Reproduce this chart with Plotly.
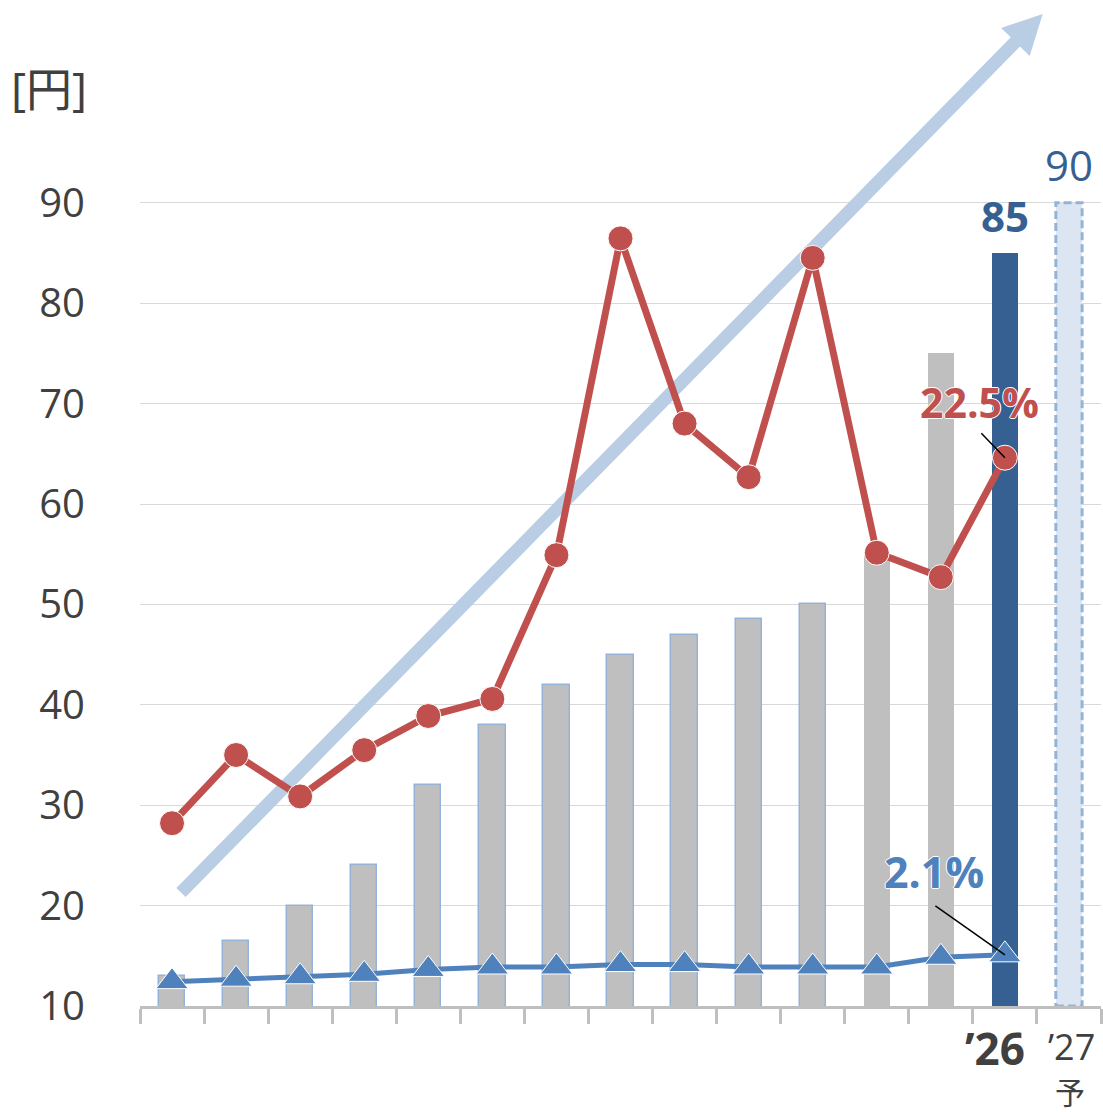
import math
import plotly.graph_objects as go

# ---- data -------------------------------------------------------------
years = ["’13", "’14", "’15", "’16", "’17", "’18", "’19", "’20",
         "’21", "’22", "’23", "’24", "’25", "’26", "’27"]
dividend_yen = [13.0, 16.5, 20.0, 24.0, 32.0, 38.0, 42.0, 45.0,
                47.0, 48.5, 50.0, 55.0, 75.0, 85.0, 90.0]
payout_ratio = [7.5, 10.3, 8.6, 10.5, 11.9, 12.6, 18.5, 31.5,
                23.9, 21.7, 30.7, 18.6, 17.6, 22.5]
dividend_yield = [1.0, 1.1, 1.2, 1.3, 1.5, 1.6, 1.6, 1.7,
                  1.7, 1.6, 1.6, 1.6, 2.0, 2.1]
y_ticks = [10, 20, 30, 40, 50, 60, 70, 80, 90]
forecast_mark = "予"

# ---- layout constants ---------------------------------------------------
W, H = 1103, 1112
ML, MR, MT, MB = 140, 2, 2, 106
X_RANGE = [-0.5, len(years) - 0.5]
Y_RANGE = [10, 110]
Y2_RANGE = [0, 41.2]
BAR_W = 0.41
FONT = "Open Sans, Noto Sans CJK JP, sans-serif"
TEXT = "#404040"
GREY = "#bfbfbf"
NAVY = "#366092"
RED = "#c0504d"
BLUE = "#4f81bd"
PALE = "#95b3d7"
ARROW = "#b9cde5"

n = len(years)
xs = list(range(n))
last = len(payout_ratio) - 1
actual_last = n - 2
forecast = n - 1

# pixel scale of the main axes (for the decorative trend arrow)
sx = (W - ML - MR) / (X_RANGE[1] - X_RANGE[0])
sy = (H - MT - MB) / (Y_RANGE[1] - Y_RANGE[0])


def to_px(x, y):
    return ML + (x - X_RANGE[0]) * sx, MT + (Y_RANGE[1] - y) * sy


def to_data(px, py):
    return X_RANGE[0] + (px - ML) / sx, Y_RANGE[1] - (py - MT) / sy


# trend arrow: tail/tip in data units, widths in pixels
TREND_FROM = (0.14, 21.3)
TREND_TO = (13.59, 108.8)
SHAFT_HALF, HEAD_HALF, HEAD_LEN = 6.5, 20.0, 39.0

tx, ty = to_px(*TREND_FROM)
hx, hy = to_px(*TREND_TO)
L = math.hypot(hx - tx, hy - ty)
ux, uy = (hx - tx) / L, (hy - ty) / L
nx, ny = -uy, ux
bx, by = hx - ux * HEAD_LEN, hy - uy * HEAD_LEN
outline_px = [
    (tx + nx * SHAFT_HALF, ty + ny * SHAFT_HALF),
    (bx + nx * SHAFT_HALF, by + ny * SHAFT_HALF),
    (bx + nx * HEAD_HALF, by + ny * HEAD_HALF),
    (hx, hy),
    (bx - nx * HEAD_HALF, by - ny * HEAD_HALF),
    (bx - nx * SHAFT_HALF, by - ny * SHAFT_HALF),
    (tx - nx * SHAFT_HALF, ty - ny * SHAFT_HALF),
    (tx + nx * SHAFT_HALF, ty + ny * SHAFT_HALF),
]
arrow_pts = [to_data(px, py) for px, py in outline_px]

fig = go.Figure()

# trend arrow
fig.add_trace(go.Scatter(
    x=[p[0] for p in arrow_pts], y=[p[1] for p in arrow_pts],
    mode="lines", fill="toself", fillcolor=ARROW,
    line=dict(width=0, color=ARROW), hoverinfo="skip", showlegend=False,
))

# dividend bars
bar_colors = [GREY] * (n - 2) + [NAVY, "#dce6f2"]
line_w = [1.5] * 11 + [0] * (n - 11)
fig.add_trace(go.Bar(
    x=xs, y=dividend_yen, width=BAR_W,
    marker=dict(color=bar_colors, line=dict(color=PALE, width=line_w)),
    showlegend=False,
))

# payout ratio line
fig.add_trace(go.Scatter(
    x=xs[:len(payout_ratio)], y=payout_ratio, yaxis="y2",
    mode="lines+markers",
    line=dict(color=RED, width=7),
    marker=dict(symbol="circle", size=25, color=RED,
                line=dict(color="white", width=1)),
    showlegend=False,
))

# dividend yield line
fig.add_trace(go.Scatter(
    x=xs[:len(dividend_yield)], y=dividend_yield, yaxis="y2",
    mode="lines+markers",
    line=dict(color=BLUE, width=5),
    marker=dict(symbol="triangle-up", size=28, color=BLUE,
                line=dict(color="white", width=1)),
    showlegend=False,
))

shapes = [dict(
    type="rect", xref="x", yref="y", layer="above",
    x0=forecast - BAR_W / 2, x1=forecast + BAR_W / 2,
    y0=Y_RANGE[0], y1=dividend_yen[forecast],
    line=dict(color=PALE, width=3, dash="8px,4px"),
    fillcolor="rgba(0,0,0,0)",
)]

outline = "1px 0 0 white, -1px 0 0 white, 0 1px 0 white, 0 -1px 0 white"
annotations = [
    dict(text="[円]", xref="paper", yref="paper", x=0, y=1,
         xanchor="center", yanchor="middle", xshift=-91, yshift=-86,
         showarrow=False, font=dict(size=46, color=TEXT, family=FONT)),
    dict(text=f"<b>{dividend_yen[actual_last]:.0f}</b>", x=actual_last,
         y=dividend_yen[actual_last], xref="x", yref="y",
         yanchor="middle", yshift=38, showarrow=False,
         font=dict(size=42, color=NAVY, family=FONT)),
    dict(text=f"{dividend_yen[forecast]:.0f}", x=forecast,
         y=dividend_yen[forecast], xref="x", yref="y",
         yanchor="middle", yshift=38, showarrow=False,
         font=dict(size=42, color=NAVY, family=FONT)),
    dict(text=f"<b>{payout_ratio[last]}%</b>", x=last, y=payout_ratio[last],
         xref="x", yref="y2", yanchor="middle", xshift=-25, yshift=56,
         showarrow=False,
         font=dict(size=41, color=RED, family=FONT, shadow=outline)),
    dict(text=f"<b>{dividend_yield[last]}%</b>", x=last, y=dividend_yield[last],
         xref="x", yref="y2", yanchor="middle", xshift=-71, yshift=83,
         showarrow=False,
         font=dict(size=43, color=BLUE, family=FONT, shadow=outline)),
    # leader lines
    dict(text="", x=last, y=payout_ratio[last], xref="x", yref="y2",
         showarrow=True, arrowhead=0, arrowwidth=1.5, arrowcolor="black",
         ax=-25, ay=-26, standoff=0),
    dict(text="", x=last, y=dividend_yield[last], xref="x", yref="y2",
         showarrow=True, arrowhead=0, arrowwidth=1.5, arrowcolor="black",
         ax=-71, ay=-50, standoff=0),
    # category labels
    dict(text=f"<b>{years[actual_last]}</b>", x=actual_last, y=Y_RANGE[0],
         xref="x", yref="y", yanchor="middle", xshift=-10, yshift=-42,
         showarrow=False, font=dict(size=44, color=TEXT, family=FONT)),
    dict(text=years[forecast], x=forecast, y=Y_RANGE[0],
         xref="x", yref="y", yanchor="middle", xshift=3, yshift=-40,
         borderpad=0, showarrow=False,
         font=dict(size=36, color=TEXT, family=FONT)),
    dict(text=forecast_mark, x=forecast, y=Y_RANGE[0],
         xref="x", yref="y", yanchor="middle", xshift=1, yshift=-86,
         borderpad=0, showarrow=False,
         font=dict(size=30, color=TEXT, family=FONT)),
]

fig.update_layout(
    width=W, height=H,
    margin=dict(l=ML, r=MR, t=MT, b=MB, pad=0),
    paper_bgcolor="white", plot_bgcolor="white",
    font=dict(family=FONT, color=TEXT),
    bargap=0,
    xaxis=dict(
        range=X_RANGE, showgrid=False, zeroline=False,
        tickvals=[i - 0.5 for i in range(n + 1)],
        ticktext=[""] * (n + 1),
        ticks="outside", ticklen=15, tickwidth=3, tickcolor=GREY,
        showline=True, linecolor=GREY, linewidth=3,
    ),
    yaxis=dict(
        range=Y_RANGE, tickvals=y_ticks, ticktext=[str(v) for v in y_ticks],
        showgrid=True, gridcolor="#d9d9d9", gridwidth=1,
        zeroline=False, showline=False, ticks="",
        ticklabelstandoff=54,
        tickfont=dict(size=40, color=TEXT, family=FONT),
    ),
    yaxis2=dict(
        range=Y2_RANGE, overlaying="y", side="right", visible=False,
        showgrid=False, zeroline=False,
    ),
    shapes=shapes,
    annotations=annotations,
)

fig.write_html("out.html")
